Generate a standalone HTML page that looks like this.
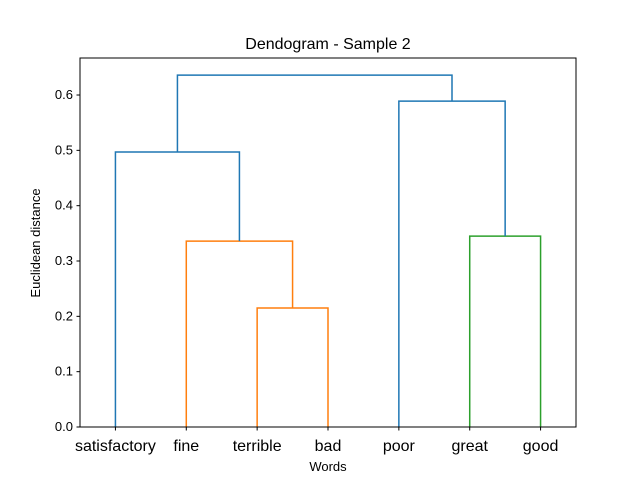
<!DOCTYPE html>
<html><head><meta charset="utf-8"><style>
body{margin:0;background:#fff;}
svg{font-family:"Liberation Sans","DejaVu Sans",sans-serif;}
</style></head><body>
<svg id="chart" width="640" height="480" xmlns="http://www.w3.org/2000/svg">
<rect width="640" height="480" fill="#fff"/>
<text x="328" y="49" font-size="16" text-anchor="middle" fill="#000">Dendogram - Sample 2</text>
<text x="328" y="471" font-size="13" text-anchor="middle" fill="#000">Words</text>
<text transform="translate(40,243) rotate(-90)" font-size="13" text-anchor="middle" fill="#000">Euclidean distance</text>
<g id="ticks"></g>
<g id="links"></g>
<rect x="80" y="58" width="496" height="369" fill="none" stroke="#000" stroke-width="1"/>
</svg>
<script>
const leaves=["satisfactory","fine","terrible","bad","poor","great","good"];
const yTicks=[0.0,0.1,0.2,0.3,0.4,0.5,0.6];
const linkX1=[25,15,55,5,45,13.75];
const linkX2=[35,30,65,22.5,60,52.5];
const linkYL=[0,0,0,0,0,0.497];
const linkYR=[0,0.215,0,0.336,0.345,0.589];
const linkH=[0.215,0.336,0.345,0.497,0.589,0.636];
const linkColor=["#ff7f0e","#ff7f0e","#2ca02c","#1f77b4","#1f77b4","#1f77b4"];
const L=80,R=576,T=58,B=427,xmax=70,ymax=0.6669;
const sx=v=>L+v/xmax*(R-L), sy=v=>B-v/ymax*(B-T);
const NS="http://www.w3.org/2000/svg";
const tg=document.getElementById('ticks'), lg=document.getElementById('links');
function mk(t,a,p){const e=document.createElementNS(NS,t);for(const k in a)e.setAttribute(k,a[k]);p.appendChild(e);return e;}
yTicks.forEach(v=>{
 const y=sy(v);
 const l=mk('line',{x1:L-3.5,x2:L,y1:y,y2:y,stroke:'#000'},tg);
 
 
 const t=mk('text',{x:L-7,y:y+4,'font-size':13,'text-anchor':'end'},tg);
 t.textContent=v.toFixed(1);
 
 
});
leaves.forEach((w,i)=>{
 const x=sx(5+10*i);
 const l=mk('line',{x1:x,x2:x,y1:B,y2:B+3.5,stroke:'#000'},tg);
 
 
 const t=mk('text',{x:x,y:B+24,'font-size':16,'text-anchor':'middle'},tg);
 t.textContent=w;
 
 
});
linkH.forEach((h,i)=>{
 const x1=sx(linkX1[i]),x2=sx(linkX2[i]);
 const p=mk('path',{d:`M${x1},${sy(linkYL[i])}V${sy(h)}H${x2}V${sy(linkYR[i])}`,fill:'none',stroke:linkColor[i],'stroke-width':1.5},lg);
 
 
});
</script>
</body></html>
